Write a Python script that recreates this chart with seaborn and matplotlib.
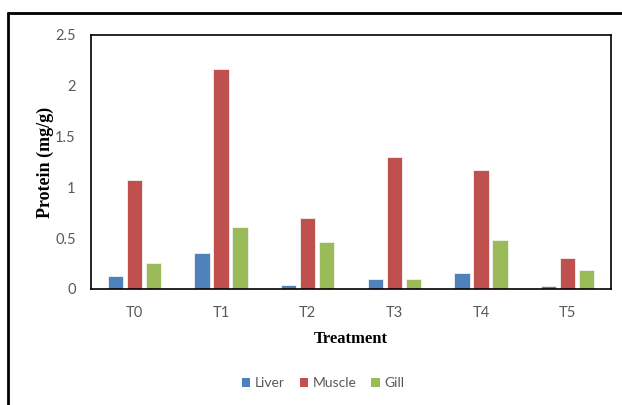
import matplotlib
matplotlib.use("Agg")
import matplotlib.pyplot as plt
import matplotlib.ticker as mticker
from matplotlib.lines import Line2D
from matplotlib.patches import Patch
import seaborn as sns
import pandas as pd

treatments = ["T0", "T1", "T2", "T3", "T4", "T5"]
liver = [0.13, 0.35, 0.04, 0.10, 0.16, 0.03]
muscle = [1.07, 2.17, 0.70, 1.30, 1.17, 0.31]
gill = [0.26, 0.61, 0.46, 0.10, 0.48, 0.19]
tissues = ["Liver", "Muscle", "Gill"]
colors = ["#4F81BD", "#C0504D", "#9BBB59"]

df = pd.DataFrame({
    "Treatment": treatments * 3,
    "Protein": liver + muscle + gill,
    "Tissue": sum([[t] * len(treatments) for t in tissues], []),
})

sns.set_theme(style="white")
plt.rcParams["font.family"] = ["Lato", "DejaVu Sans"]

fig = plt.figure(figsize=(6.22, 4.05), dpi=100)
ax = fig.add_axes([91 / 622, 1 - 289 / 405, 520 / 622, 254 / 405])

sns.barplot(data=df, x="Treatment", y="Protein", hue="Tissue",
            palette=colors, width=0.66, gap=0.2, ax=ax, legend=False,
            saturation=1, errorbar=None, linewidth=0.6, edgecolor="#f2f2f2")

ax.set_ylim(0, 2.5)
ax.set_yticks([0, 0.5, 1, 1.5, 2, 2.5])
ax.yaxis.set_major_formatter(mticker.FormatStrFormatter("%g"))
ax.tick_params(axis="both", length=0, labelsize=10.5, labelcolor="#595959")
ax.tick_params(axis="y", pad=11)
ax.tick_params(axis="x", pad=12)
for s in ax.spines.values():
    s.set_visible(True)
    s.set_color("black")
    s.set_linewidth(1.2)

ax.set_xlabel("Treatment", family="Liberation Serif", fontweight="bold",
              fontsize=12, color="black", labelpad=8)
ax.set_ylabel("Protein (mg/g)", family="Liberation Serif", fontweight="bold",
              fontsize=13, color="black", labelpad=1)

handles = [Patch(facecolor=c, edgecolor="none") for c in colors]
fig.legend(handles, tissues, loc="center", bbox_to_anchor=(323 / 622, 1 - 383 / 405),
           ncol=3, frameon=False, fontsize=10, handlelength=0.6, handleheight=0.6,
           handletextpad=0.3, columnspacing=1.1, labelcolor="#595959")

# outer chart frame
fig.add_artist(Line2D([8 / 622, 1.0], [1 - 13 / 405, 1 - 13 / 405],
                      transform=fig.transFigure, color="black", lw=2))
fig.add_artist(Line2D([8 / 622, 8 / 622], [0, 1 - 13 / 405],
                      transform=fig.transFigure, color="black", lw=2))

fig.savefig("out.png", dpi=100)
